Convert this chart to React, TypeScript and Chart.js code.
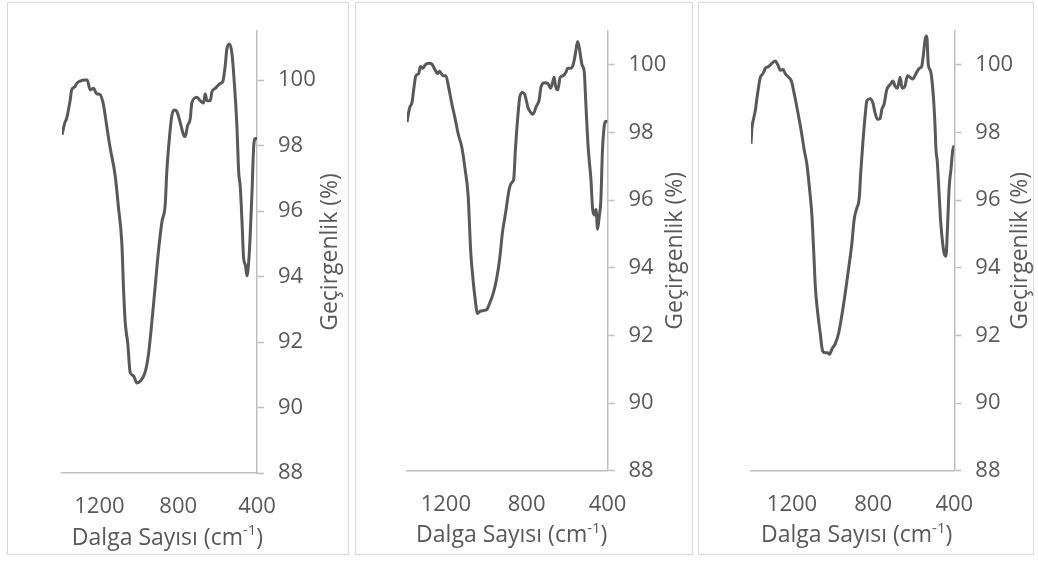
import React, { useEffect, useRef } from 'react';
import { Chart, registerables } from 'chart.js';

Chart.register(...registerables);

// Spectrum A
const wavenumberA = [
  1390, 1375, 1367, 1349, 1341, 1324, 1315, 1298, 1273, 1262, 1247, 1230, 1214, 1197, 1180,
  1163, 1146, 1120, 1103, 1086, 1078, 1069, 1056, 1044, 1027, 1010, 993, 968, 951, 934,
  917, 900, 883, 866, 858, 844, 832, 820, 807, 790, 773, 764, 753, 739, 731,
  705, 688, 671, 663, 654, 637, 629, 612, 586, 573, 561, 553, 539, 527, 515,
  502, 493, 485, 476, 468, 459, 451, 442, 434, 425, 417, 408, 400,
];
const transmittanceA = [
  98.33, 98.71, 98.82, 99.37, 99.7, 99.8, 99.9, 99.97, 100.0, 100.0, 99.7, 99.75, 99.58, 99.56, 99.26,
  98.6, 97.95, 97.08, 96.09, 95.0, 93.69, 92.6, 91.95, 91.08, 90.97, 90.75, 90.8, 91.08, 91.62, 92.6,
  93.69, 94.79, 95.66, 96.2, 97.19, 98.28, 98.93, 99.09, 99.04, 98.71, 98.33, 98.28, 98.6, 98.82, 99.3,
  99.48, 99.37, 99.3, 99.58, 99.37, 99.37, 99.64, 99.75, 99.9, 99.97, 100.46, 100.95, 101.1, 100.8, 99.9,
  98.6, 97.19, 96.75, 95.66, 94.57, 94.35, 94.02, 94.46, 95.33, 96.64, 97.95, 98.22, 98.22,
];

// Spectrum B
const wavenumberB = [
  1392, 1379, 1367, 1359, 1348, 1334, 1326, 1313, 1302, 1285, 1269, 1252, 1241, 1231, 1215,
  1200, 1187, 1170, 1154, 1138, 1121, 1105, 1089, 1077, 1067, 1056, 1043, 1031, 1015, 998,
  982, 966, 949, 933, 920, 903, 887, 875, 864, 856, 843, 834, 821, 810, 793,
  777, 769, 752, 739, 728, 711, 695, 682, 674, 664, 657, 646, 634, 618, 605,
  597, 580, 569, 559, 548, 539, 526, 515, 507, 498, 490, 482, 474, 466, 457,
  449, 441, 433, 425, 416, 408, 400,
];
const transmittanceB = [
  98.31, 98.73, 98.89, 99.26, 99.68, 99.74, 99.95, 99.9, 100.0, 100.05, 100.02, 99.84, 99.74, 99.81, 99.68,
  99.68, 99.37, 98.84, 98.41, 97.94, 97.57, 96.93, 96.09, 94.5, 93.76, 93.13, 92.65, 92.71, 92.73, 92.76,
  92.97, 93.23, 93.66, 94.29, 95.03, 95.67, 96.3, 96.51, 96.62, 97.46, 98.52, 99.05, 99.18, 99.13, 98.73,
  98.57, 98.54, 98.78, 98.94, 99.37, 99.47, 99.45, 99.31, 99.42, 99.63, 99.37, 99.26, 99.63, 99.68, 99.79,
  99.9, 99.9, 100.02, 100.32, 100.69, 100.48, 100.0, 99.79, 98.84, 97.78, 97.15, 96.62, 95.77, 95.56, 95.72,
  95.14, 95.51, 95.98, 97.46, 98.2, 98.33, 98.31,
];

// Spectrum C
const wavenumberC = [
  1402, 1397, 1389, 1380, 1372, 1364, 1356, 1343, 1331, 1315, 1298, 1282, 1270, 1257, 1244,
  1233, 1216, 1203, 1189, 1172, 1156, 1139, 1126, 1113, 1102, 1093, 1085, 1074, 1061, 1049,
  1036, 1025, 1015, 1003, 987, 970, 954, 938, 921, 905, 893, 880, 869, 861, 851,
  839, 831, 815, 802, 790, 779, 766, 757, 746, 733, 716, 703, 692, 680, 667,
  657, 643, 631, 618, 605, 589, 572, 561, 552, 544, 536, 528, 516, 503, 495,
  490, 484, 474, 467, 457, 449, 441, 434, 425, 416, 408, 400,
];
const transmittanceC = [
  97.67, 98.15, 98.41, 98.68, 99.05, 99.37, 99.63, 99.74, 99.9, 99.95, 100.05, 100.11, 100.0, 99.84, 99.86,
  99.74, 99.63, 99.52, 99.15, 98.63, 98.1, 97.46, 97.04, 96.3, 95.56, 94.5, 93.45, 92.71, 92.07, 91.54,
  91.49, 91.49, 91.44, 91.6, 91.75, 92.07, 92.6, 93.23, 93.97, 94.71, 95.45, 95.77, 96.04, 96.83, 97.67,
  98.52, 98.94, 99.0, 98.89, 98.57, 98.39, 98.41, 98.68, 98.84, 99.26, 99.42, 99.52, 99.37, 99.31, 99.63,
  99.31, 99.37, 99.68, 99.63, 99.58, 99.74, 99.9, 99.95, 100.32, 100.74, 100.85, 100.0, 99.79, 99.05, 98.2,
  97.46, 97.15, 96.09, 95.35, 94.71, 94.4, 94.34, 95.14, 96.41, 96.93, 97.46, 97.62,
];

const yTickValues = [88, 90, 92, 94, 96, 98, 100];
const xTickValues = [1200, 800, 400];

const X_TITLE = 'Dalga Sayısı (cm';
const X_TITLE_EXP = '-1';
const X_TITLE_END = ')';
const Y_TITLE = 'Geçirgenlik (%)';

const FONT = '"Open Sans", sans-serif';
const TEXT_COLOR = '#595959';
const AXIS_COLOR = '#bfbfbf';
const LINE_COLOR = '#595959';
const PANEL_BORDER = '#d9d9d9';

type PanelLayout = {
  left: number;
  width: number;
  padLeft: number;
  axisWidth: number;
  axisHeight: number;
  yTitleGap: number;
  xTitleShift: number;
  xMin: number;
  yMax: number;
};

const PANEL_TOP = 2;
const PANEL_HEIGHT = 553;

const panels: { layout: PanelLayout; x: number[]; y: number[] }[] = [
  {
    layout: { left: 7, width: 342, padLeft: 54, axisWidth: 91, axisHeight: 81, yTitleGap: 73, xTitleShift: 8, xMin: 1390, yMax: 101.5 },
    x: wavenumberA,
    y: transmittanceA,
  },
  {
    layout: { left: 355, width: 338, padLeft: 51, axisWidth: 84.5, axisHeight: 83.3, yTitleGap: 67.5, xTitleShift: 4.5, xMin: 1392, yMax: 101 },
    x: wavenumberB,
    y: transmittanceB,
  },
  {
    layout: { left: 698, width: 336, padLeft: 52, axisWidth: 78.7, axisHeight: 83.3, yTitleGap: 66, xTitleShift: 4, xMin: 1402, yMax: 101 },
    x: wavenumberC,
    y: transmittanceC,
  },
];

// Axis titles: the x title carries a superscript exponent, the y title reads bottom-to-top.
const axisTitlesPlugin = {
  id: 'axisTitles',
  afterDraw(chart: any, _args: unknown, opts: any) {
    const { ctx, chartArea } = chart;
    ctx.save();
    ctx.fillStyle = TEXT_COLOR;
    ctx.textBaseline = 'middle';
    ctx.textAlign = 'left';

    const big = `23px ${FONT}`;
    const small = `15px ${FONT}`;
    ctx.font = big;
    const wMain = ctx.measureText(X_TITLE).width;
    const wEnd = ctx.measureText(X_TITLE_END).width;
    ctx.font = small;
    const wExp = ctx.measureText(X_TITLE_EXP).width;
    const total = wMain + wExp + wEnd;
    let x = (chartArea.left + chartArea.right) / 2 + opts.xShift - total / 2;
    const y = chartArea.bottom + 65;
    ctx.font = big;
    ctx.fillText(X_TITLE, x, y);
    x += wMain;
    ctx.font = small;
    ctx.fillText(X_TITLE_EXP, x, y - 7);
    x += wExp;
    ctx.font = big;
    ctx.fillText(X_TITLE_END, x, y);

    ctx.translate(chartArea.right + opts.yGap, (chartArea.top + chartArea.bottom) / 2);
    ctx.rotate(-Math.PI / 2);
    ctx.textAlign = 'center';
    ctx.fillText(Y_TITLE, 0, 0);
    ctx.restore();
  },
};

function SpectrumPanel({ layout, xs, ys }: { layout: PanelLayout; xs: number[]; ys: number[] }) {
  const ref = useRef<HTMLCanvasElement>(null);

  useEffect(() => {
    const canvas = ref.current;
    if (!canvas) return;
    const points = xs.map((x, i) => ({ x, y: ys[i] }));
    const tickFont = { family: FONT, size: 22 };
    const chart = new Chart(canvas, {
      type: 'line',
      data: {
        datasets: [
          {
            data: points,
            borderColor: LINE_COLOR,
            borderWidth: 3,
            pointRadius: 0,
            fill: false,
            cubicInterpolationMode: 'monotone',
          },
        ],
      },
      options: {
        responsive: false,
        animation: false,
        layout: { padding: { left: layout.padLeft, top: 28, right: 0, bottom: 0 } },
        plugins: {
          legend: { display: false },
          tooltip: { enabled: false },
          axisTitles: { xShift: layout.xTitleShift, yGap: layout.yTitleGap },
        } as any,
        scales: {
          x: {
            type: 'linear',
            reverse: true,
            min: layout.xMin,
            max: 400,
            grid: { display: false, drawTicks: false },
            border: { display: true, color: AXIS_COLOR, width: 1.5 },
            ticks: {
              font: tickFont,
              color: TEXT_COLOR,
              padding: 21,
              maxRotation: 0,
              autoSkip: false,
              callback: (v: any) => String(v),
            },
            afterBuildTicks: (s: any) => {
              s.ticks = xTickValues.map((value) => ({ value }));
            },
            afterFit: (s: any) => {
              s.height = layout.axisHeight;
            },
          },
          y: {
            type: 'linear',
            position: 'right',
            min: 88,
            max: layout.yMax,
            grid: {
              drawOnChartArea: false,
              drawTicks: true,
              tickLength: 7,
              color: AXIS_COLOR,
              tickColor: AXIS_COLOR,
              tickWidth: 1.5,
            },
            border: { display: true, color: AXIS_COLOR, width: 1.5 },
            ticks: {
              font: tickFont,
              color: TEXT_COLOR,
              padding: 14,
              callback: (v: any) => String(v),
            },
            afterBuildTicks: (s: any) => {
              s.ticks = yTickValues.map((value) => ({ value }));
            },
            afterFit: (s: any) => {
              s.width = layout.axisWidth;
            },
          },
        },
      } as any,
      plugins: [axisTitlesPlugin as any],
    });
    return () => chart.destroy();
  }, [layout, xs, ys]);

  return (
    <div
      style={{
        position: 'absolute',
        left: layout.left,
        top: PANEL_TOP,
        width: layout.width,
        height: PANEL_HEIGHT,
        boxSizing: 'border-box',
        border: `1px solid ${PANEL_BORDER}`,
        background: '#ffffff',
      }}
    >
      <canvas
        ref={ref}
        width={layout.width - 2}
        height={PANEL_HEIGHT - 2}
        style={{ display: 'block' }}
      />
    </div>
  );
}

export default function App() {
  return (
    <div
      style={{
        position: 'fixed',
        left: 0,
        top: 0,
        width: 1038,
        height: 561,
        background: '#ffffff',
        overflow: 'hidden',
      }}
    >
      {panels.map((p, i) => (
        <SpectrumPanel key={i} layout={p.layout} xs={p.x} ys={p.y} />
      ))}
    </div>
  );
}
